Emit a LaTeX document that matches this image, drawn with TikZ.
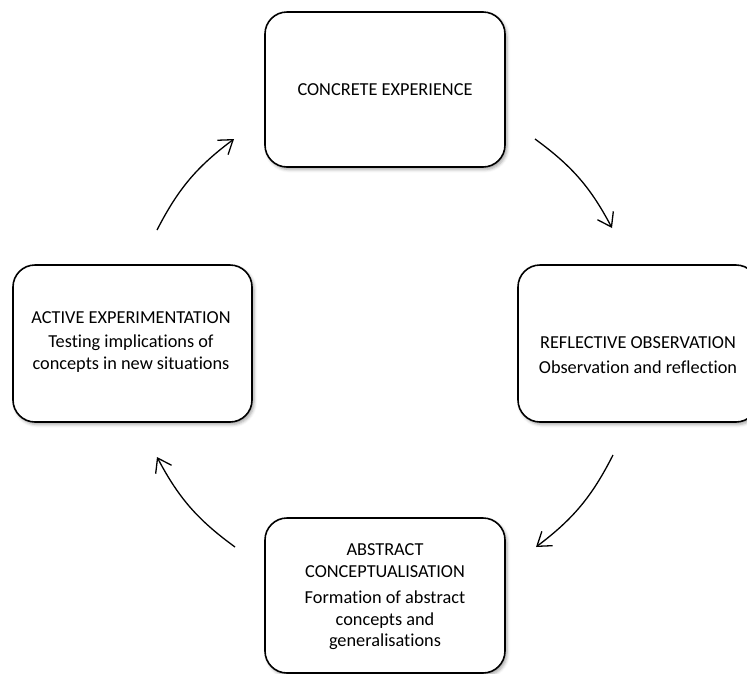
\documentclass[tikz,border=0pt]{standalone}
\usepackage{fontspec}
\setmainfont{Carlito}[Ligatures=NoCommon]
\usetikzlibrary{arrows.meta,shadows.blur}
\begin{document}
\begin{tikzpicture}[x=1pt,y=-1pt,
  stage/.style={draw=black, line width=1.6pt, rounded corners=22pt, fill=white,
    blur shadow={shadow xshift=2pt, shadow yshift=-2.5pt, shadow blur radius=3pt, shadow opacity=35},
    minimum width=240pt, minimum height=155pt, inner sep=0pt},
  stagetext/.style={font=\fontsize{18.3}{21.5}\selectfont, align=center, inner sep=0pt},
  flow/.style={line width=1.3pt, -{Straight Barb[length=13pt,width=18pt]}, bend left=13}
]
\useasboundingbox (0,0) rectangle (747,673);

% the four stages of the cycle
\node[stage] (ce) at (385,89.5) {};
\node[stage, minimum height=157pt] (ro) at (638,343.5) {};
\node[stage, minimum width=239pt, minimum height=157pt] (ae) at (132.5,343.5) {};
\node[stage] (ac) at (385,595.5) {};

\node[stagetext] (cet) at (385,90) {CONCRETE EXPERIENCE};
\node[stagetext] (rot) at (638,355) {REFLECTIVE OBSERVATION\\[3pt] Observation and reflection};
\node[stagetext] (aet) at (131,342) {ACTIVE EXPERIMENTATION\\[3pt] Testing implications of\\ concepts in new situations};
\node[stagetext] (act) at (385,597) {ABSTRACT\\ CONCEPTUALISATION\\[5pt] Formation of abstract\\ concepts and\\ generalisations};

% ends of the curved arrows between the stages
\coordinate (ae-out) at (157,230);
\coordinate (ce-in)  at (234,139);
\coordinate (ce-out) at (535,139);
\coordinate (ro-in)  at (612,228);
\coordinate (ro-out) at (613,455);
\coordinate (ac-in)  at (536,547);
\coordinate (ac-out) at (235,547);
\coordinate (ae-in)  at (157,457);

\draw[flow] (ae-out) to (ce-in);
\draw[flow] (ce-out) to (ro-in);
\draw[flow] (ro-out) to (ac-in);
\draw[flow] (ac-out) to (ae-in);
\end{tikzpicture}
\end{document}
